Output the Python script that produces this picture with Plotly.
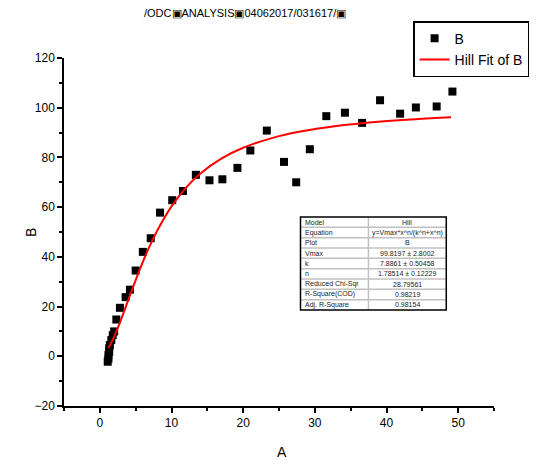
import plotly.graph_objects as go

# Scatter data (A, B)
a_vals = [1.1, 1.2, 1.2, 1.3, 1.3, 1.4, 1.6, 1.8, 2.0, 2.3, 2.8, 3.6, 4.2, 5.0, 6.0, 7.1,
          8.4, 10.1, 11.6, 13.4, 15.3, 17.1, 19.2, 21.0, 23.3, 25.7, 27.4, 29.3, 31.6,
          34.2, 36.6, 39.1, 41.9, 44.1, 47.0, 49.2]
b_vals = [-2.2, -1.0, 0.5, 1.8, 3.2, 4.5, 6.5, 8.5, 10.0, 14.8, 19.5, 23.8, 26.8, 34.5, 42.0, 47.5,
          57.8, 62.8, 66.5, 73.0, 70.8, 71.2, 75.8, 82.8, 90.8, 78.2, 70.0, 83.3, 96.6,
          98.0, 93.9, 103.0, 97.6, 100.1, 100.5, 106.5]

# Hill fit curve
fit_a = [1.2, 1.5, 2, 2.5, 3, 4, 5, 6, 7, 8, 10, 12, 14, 17, 20, 24, 28, 33, 38, 44, 49]
fit_b = [3.35, 4.9, 7.94, 11.38, 15.09, 22.9, 30.66, 37.97, 44.61, 50.54, 60.33, 67.78,
         73.45, 79.61, 83.89, 87.78, 90.41, 92.62, 94.14, 95.39, 96.13]

# Fit report table
table_keys = ["Model", "Equation", "Plot", "Vmax", "k", "n", "Reduced Chi-Sqr",
              "R-Square(COD)", "Adj. R-Square"]
table_vals = ["Hill", "y=Vmax*x^n/(k^n+x^n)", "B", "99.8197 ± 2.8002", "7.8861 ± 0.50458",
              "1.78514 ± 0.12229", "28.79561", "0.98219", "0.98154"]

title_text = "/ODC▣ANALYSIS▣04062017/031617/▣"
x_title = "A"
y_title = "B"

FONT = "Arial, Liberation Sans, sans-serif"

fig = go.Figure()
fig.add_trace(go.Scatter(x=a_vals, y=b_vals, mode="markers", name="B",
                         marker=dict(symbol="square", size=8, color="black")))
fig.add_trace(go.Scatter(x=fit_a, y=fit_b, mode="lines", name="Hill Fit of B",
                         line=dict(color="red", width=2, shape="spline")))

# Table drawn with shapes + annotations (paper coordinates)
tx0, tx1, tmid = 0.55, 0.889, 0.708
ty0, ty1 = 0.276, 0.543
nrows = len(table_keys)
rh = (ty1 - ty0) / nrows
for i in range(1, nrows):
    yy = ty1 - i * rh
    fig.add_shape(type="line", xref="paper", yref="paper", x0=tx0, x1=tx1, y0=yy, y1=yy,
                  line=dict(color="#c0c0c0", width=1.5), layer="above")
fig.add_shape(type="line", xref="paper", yref="paper", x0=tmid, x1=tmid, y0=ty0, y1=ty1,
              line=dict(color="#c0c0c0", width=1.5), layer="above")
fig.add_shape(type="rect", xref="paper", yref="paper", x0=tx0, x1=tx1, y0=ty0, y1=ty1,
              line=dict(color="black", width=1.5), fillcolor="rgba(0,0,0,0)", layer="above")
for i, (k, v) in enumerate(zip(table_keys, table_vals)):
    yc = ty1 - (i + 0.5) * rh
    fig.add_annotation(text=k, xref="paper", yref="paper", x=tx0 + 0.006, y=yc,
                       xanchor="left", yanchor="middle", showarrow=False,
                       font=dict(family=FONT, size=7, color="#222"))
    fig.add_annotation(text=v, xref="paper", yref="paper", x=(tmid + tx1) / 2, y=yc,
                       xanchor="center", yanchor="middle", showarrow=False,
                       font=dict(family=FONT, size=7, color="#222"))

fig.add_annotation(text=title_text, xref="paper", yref="paper", x=0.422, y=1.13,
                   xanchor="center", yanchor="middle", showarrow=False,
                   font=dict(family=FONT, size=11, color="black"))
fig.add_annotation(text=x_title, xref="paper", yref="paper", x=0.506, y=-0.132,
                   xanchor="center", yanchor="middle", showarrow=False,
                   font=dict(family=FONT, size=14, color="black"))
fig.add_annotation(text=y_title, xref="paper", yref="paper", x=-0.0766, y=0.497,
                   xanchor="center", yanchor="middle", showarrow=False, textangle=-90,
                   font=dict(family=FONT, size=14, color="black"))

fig.update_layout(
    width=540, height=464,
    margin=dict(l=64, r=45, t=58, b=58),
    paper_bgcolor="white", plot_bgcolor="white",
    font=dict(family=FONT, size=12, color="black"),
    showlegend=True,
    legend=dict(x=0.81, y=1.106, xanchor="left", yanchor="top",
                bordercolor="black", borderwidth=1.5, bgcolor="white",
                font=dict(family=FONT, size=14, color="black"),
                tracegroupgap=0, itemwidth=30),
)
fig.update_xaxes(range=[-5, 55], dtick=10, tick0=0, showgrid=False, zeroline=False,
                 showline=True, linecolor="black", linewidth=1.5,
                 ticks="outside", ticklen=5, tickcolor="black", tickwidth=1.5,
                 minor=dict(dtick=5, tick0=0, ticks="outside", ticklen=3, tickcolor="black",
                            tickwidth=1.5, showgrid=False),
                 tickfont=dict(size=12, color="black"))
fig.update_yaxes(range=[-20, 120], dtick=20, tick0=0, showgrid=False, zeroline=False,
                 showline=True, linecolor="black", linewidth=1.5,
                 ticks="outside", ticklen=5, tickcolor="black", tickwidth=1.5,
                 minor=dict(dtick=10, tick0=0, ticks="outside", ticklen=3, tickcolor="black",
                            tickwidth=1.5, showgrid=False),
                 tickfont=dict(size=12, color="black"))

fig.write_html("out.html")
